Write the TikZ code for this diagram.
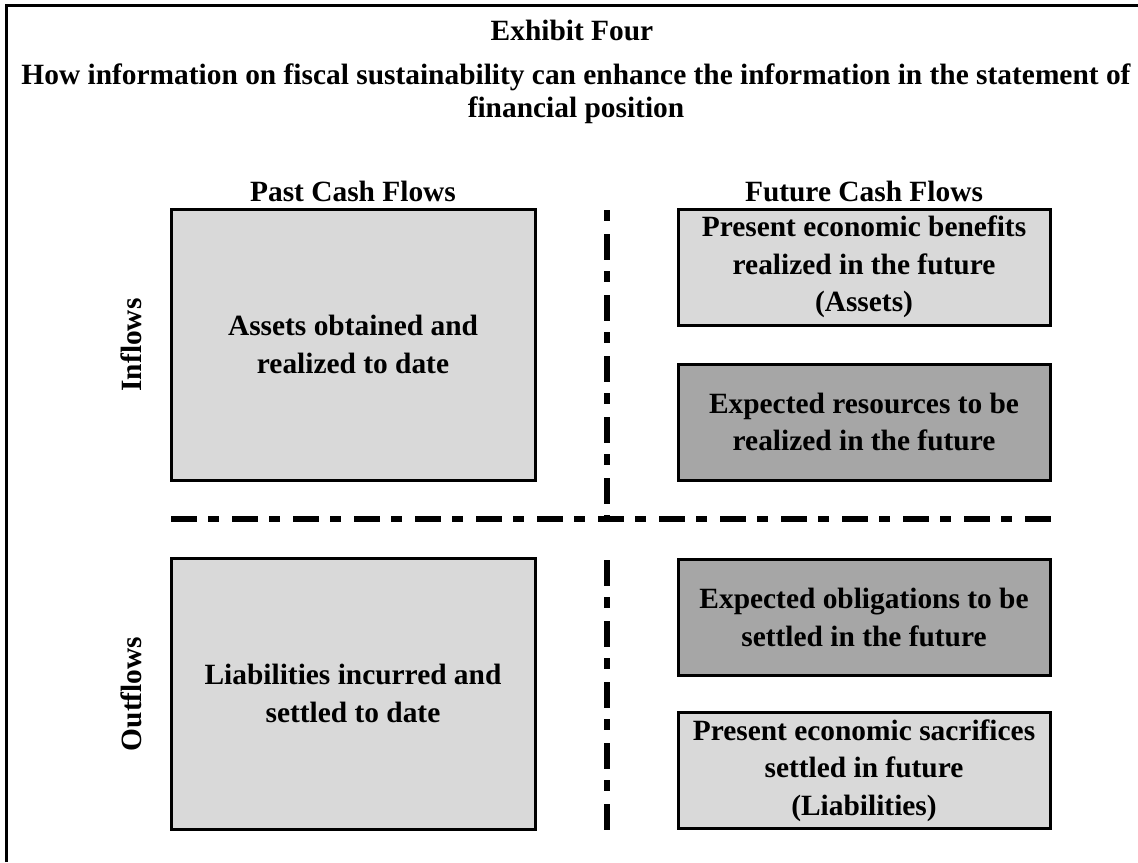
\documentclass[tikz,border=0pt]{standalone}
\usepackage{fontspec}
\setmainfont{Liberation Serif}
\usepackage{tikz}

\definecolor{boxlight}{HTML}{D9D9D9}
\definecolor{boxdark}{HTML}{A6A6A6}

\tikzset{
  cell/.style={draw, line width=1.5pt, align=center, inner sep=0pt,
    font=\fontsize{14.7}{18.75}\selectfont\bfseries},
  pastcell/.style={cell, fill=boxlight, minimum width=182pt, minimum height=135.5pt},
  nowcell/.style={cell, fill=boxlight, minimum width=186pt, minimum height=58pt},
  expcell/.style={cell, fill=boxdark, minimum width=186pt, minimum height=58pt},
  head/.style={font=\fontsize{14.7}{16.5}\selectfont\bfseries, inner sep=0pt},
  divider/.style={line width=2.75pt, dash pattern=on 13pt off 5.5pt on 5.5pt off 6.5pt}
}

\begin{document}
\begin{tikzpicture}[x=0.5pt, y=-0.5pt]
		\useasboundingbox (0,0) rectangle (1138,862);
		% frame
		\draw[line width=1.5pt] (6.5,862) -- (6.5,5) -- (1138,5);
		% titles
		\node[head] (exhibit) at (572, 30) {Exhibit Four};
		\node[head, align=center] (title) at (576, 94)
		{How information on fiscal sustainability can enhance the information in the statement of\\ financial position};
		\node[head] (past) at (353, 191) {Past Cash Flows};
		\node[head] (future) at (864, 191) {Future Cash Flows};
		\node[head, rotate=90] (inflows) at (131, 345) {Inflows};
		\node[head, rotate=90] (outflows) at (131, 694) {Outflows};
		% boxes
		\node[pastcell] (assets) at (353, 344.5) {Assets obtained and\\ realized to date};
		\node[pastcell] (liab) at (353, 693.5) {Liabilities incurred and\\ settled to date};
		\node[nowcell] (benefits) at (864, 267) {Present economic benefits\\ realized in the future\\ (Assets)};
		\node[expcell] (resources) at (864, 422) {Expected resources to be\\ realized in the future};
		\node[expcell] (obligations) at (864, 617.5) {Expected obligations to be\\ settled in the future};
		\node[nowcell] (sacrifices) at (864, 770.5) {Present economic sacrifices\\ settled in future\\ (Liabilities)};
		% dividers
		\draw[divider] (171, 519) -- (1052, 519);
		\draw[divider, dash pattern=on 5.5pt off 6.5pt on 13pt off 5.5pt] (607, 210) -- (607, 519);
		\draw[divider] (607, 560) -- (607, 830);
		\end{tikzpicture}
\end{document}
